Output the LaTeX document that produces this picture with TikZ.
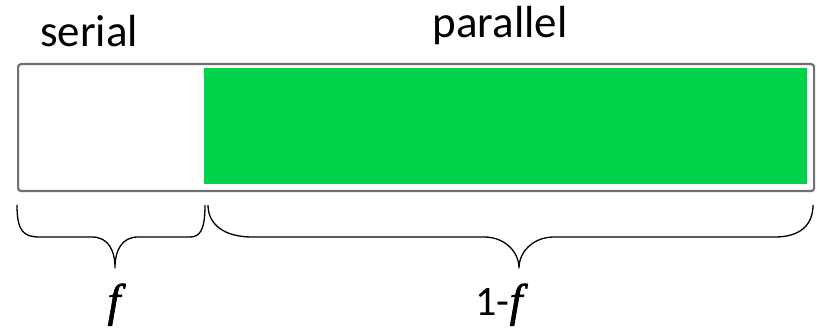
\documentclass[tikz,border=0pt]{standalone}
\usepackage{fontspec}
\setmainfont{Carlito}
\newfontfamily\mathlikefont[FakeBold=1.5]{Liberation Serif Italic}
\definecolor{pargreen}{HTML}{00D249}
\definecolor{barborder}{HTML}{707070}
\tikzset{
  lbl/.style={inner sep=0pt, anchor=base, font=\fontsize{45}{50}\selectfont},
  mlbl/.style={inner sep=0pt, anchor=base, font=\fontsize{42}{48}\selectfont},
  bracestyle/.style={draw=black, line width=1.3pt, line join=round},
}
\newcommand{\fvar}{{\mathlikefont\fontsize{46}{50}\selectfont f\kern2pt}}
\begin{document}
\begin{tikzpicture}[x=1pt,y=-1pt]
\useasboundingbox (0,0) rectangle (817,328);
% outer bar
\node[draw=barborder, line width=2.2pt, rounded corners=3pt, fill=white,
      minimum width=796pt, minimum height=127pt, inner sep=0pt, anchor=north west] (bar) at (17,63) {};
% green parallel part
\node[fill=pargreen, minimum width=603pt, minimum height=116pt, inner sep=0pt, anchor=north west] (par) at (204,68) {};
% labels
\node[lbl] (serial) at (89,47) {serial};
\node[lbl] (parallel) at (500,38) {parallel};
% braces
\coordinate (la) at (17,205);
\coordinate (lt) at (115,268);
\coordinate (lb) at (205,205);
\draw[bracestyle] (la) .. controls (17,232) and (24,237) .. (40,237)
  -- (92,237) .. controls (108,237) and (115,250) .. (lt)
  .. controls (115,250) and (122,237) .. (138,237)
  -- (190,237) .. controls (200,237) and (205,230) .. (lb);
\coordinate (ra) at (208,205);
\coordinate (rt) at (519,268);
\coordinate (rb) at (813,205);
\draw[bracestyle] (ra) .. controls (208,225) and (225,237) .. (252,237)
  -- (484,237) .. controls (505,237) and (519,252) .. (rt)
  .. controls (519,252) and (533,237) .. (554,237)
  -- (775,237) .. controls (800,237) and (813,225) .. (rb);
% bottom labels
\node[mlbl] (f) at (115,316) {\fvar};
\node[mlbl] (onef) at (500,316) {1-\fvar};
\end{tikzpicture}
\end{document}
